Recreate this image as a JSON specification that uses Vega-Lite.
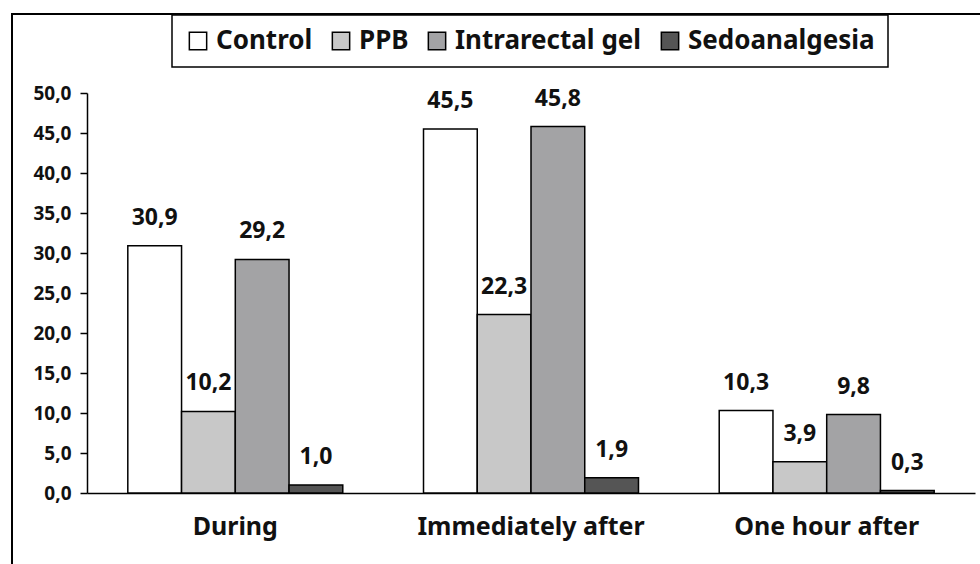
{
  "$schema": "https://vega.github.io/schema/vega-lite/v6.json",
  "autosize": {"type": "none"},
  "width": 1000,
  "height": 600,
  "padding": {"left": 12, "top": 14, "right": 0, "bottom": 0},
  "background": "white",
  "config": {
    "font": "Noto Sans",
    "locale": {"number": {"decimal": ",", "thousands": ".", "grouping": [3], "currency": ["", ""]}},
    "view": {"stroke": "black", "strokeWidth": 2},
    "axis": {"labelFont": "Noto Sans", "labelFontWeight": "bold", "labelColor": "#111", "domainColor": "black", "tickColor": "black", "grid": false, "title": null}
  },
  "data": {
    "values": [
      {"time": "During", "group": "Control", "value": 30.9},
      {"time": "During", "group": "PPB", "value": 10.2},
      {"time": "During", "group": "Intrarectal gel", "value": 29.2},
      {"time": "During", "group": "Sedoanalgesia", "value": 1.0},
      {"time": "Immediately after", "group": "Control", "value": 45.5},
      {"time": "Immediately after", "group": "PPB", "value": 22.3},
      {"time": "Immediately after", "group": "Intrarectal gel", "value": 45.8},
      {"time": "Immediately after", "group": "Sedoanalgesia", "value": 1.9},
      {"time": "One hour after", "group": "Control", "value": 10.3},
      {"time": "One hour after", "group": "PPB", "value": 3.9},
      {"time": "One hour after", "group": "Intrarectal gel", "value": 9.8},
      {"time": "One hour after", "group": "Sedoanalgesia", "value": 0.3}
    ]
  },
  "encoding": {
    "x": {
      "field": "time", "type": "nominal", "sort": null,
      "scale": {"range": [75, 963], "paddingInner": 0.273, "paddingOuter": 0.138},
      "axis": {"orient": "bottom", "offset": -121, "labelAngle": 0, "ticks": false, "domainWidth": 1.5, "labelFontSize": 25, "labelPadding": 21, "labelLimit": 400}
    },
    "xOffset": {"field": "group", "type": "nominal", "sort": ["Control", "PPB", "Intrarectal gel", "Sedoanalgesia"], "scale": {"paddingInner": 0, "paddingOuter": 0}},
    "y": {
      "field": "value", "type": "quantitative",
      "scale": {"domain": [0, 50], "range": [479, 79], "nice": false, "zero": true},
      "axis": {"offset": -75, "values": [0, 5, 10, 15, 20, 25, 30, 35, 40, 45, 50], "format": ".1f", "labelFontSize": 19, "tickSize": 7, "domainWidth": 1.5, "tickWidth": 1.5, "labelPadding": 9}
    }
  },
  "layer": [
    {
      "mark": {"type": "bar", "stroke": "black", "strokeWidth": 1.5},
      "encoding": {
        "color": {
          "field": "group", "type": "nominal",
          "scale": {"domain": ["Control", "PPB", "Intrarectal gel", "Sedoanalgesia"], "range": ["#ffffff", "#c8c8c8", "#a3a3a5", "#555555"]},
          "legend": {
            "title": null, "orient": "none", "legendX": 160, "legendY": 1, "direction": "horizontal",
            "strokeColor": "black", "fillColor": "white", "padding": 13,
            "labelFont": "Noto Sans", "labelFontWeight": "bold", "labelFontSize": 26, "labelColor": "#111",
            "symbolType": "square", "symbolSize": 300, "symbolStrokeColor": "black", "symbolStrokeWidth": 1.5, "symbolOpacity": 1,
            "columnPadding": 15, "labelOffset": 5, "labelLimit": 400,
            "encode": {"legend": {"update": {"strokeWidth": {"value": 1.5}}}}
          }
        }
      }
    },
    {
      "mark": {"type": "text", "baseline": "alphabetic", "dy": -21, "fontSize": 23, "fontWeight": "bold", "font": "Noto Sans", "color": "#111"},
      "encoding": {
        "text": {"field": "value", "type": "quantitative", "format": ".1f"}
      }
    }
  ]
}
